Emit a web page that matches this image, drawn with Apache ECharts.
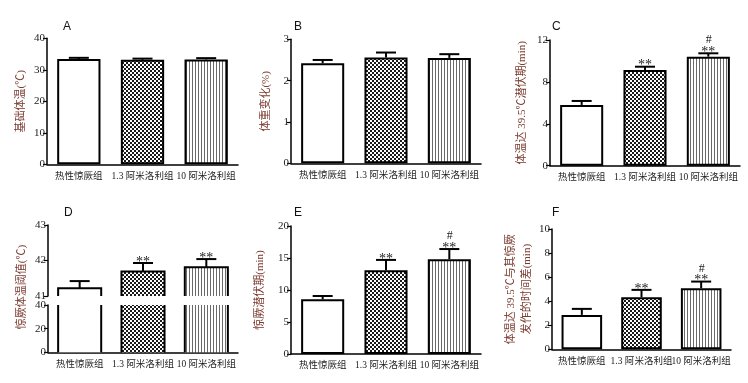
<!DOCTYPE html>
<html>
<head>
<meta charset="utf-8">
<script src="https://cdn.jsdelivr.net/npm/echarts@6/dist/echarts.min.js"></script>
<style>
html, body { margin: 0; background: #fff; }
#chart { width: 748px; height: 383px; }
</style>
</head>
<body>
<div id="chart"></div>
<script>
const groups = ['热性惊厥组', '1.3 阿米洛利组', '10 阿米洛利组'];

// A 基础体温
const baseTemp = [33.4, 33.2, 33.3];
const baseTempErr = [0.4, 0.35, 0.4];
// B 体重变化
const weightChange = [2.42, 2.56, 2.55];
const weightChangeErr = [0.08, 0.12, 0.09];
// C 体温达 39.5℃潜伏期
const latency395 = [5.8, 9.14, 10.41];
const latency395Err = [0.38, 0.31, 0.32];
// D 惊厥体温阈值
const threshold = [41.22, 41.69, 41.81];
const thresholdErr = [0.2, 0.24, 0.23];
// E 惊厥潜伏期
const seizureLatency = [8.55, 13.1, 14.8];
const seizureLatencyErr = [0.51, 1.6, 1.6];
// F 时间差
const timeDiff = [2.86, 4.33, 5.08];
const timeDiffErr = [0.5, 0.61, 0.55];

const noMark = ['', '', ''];
const starsSig = ['', '**', '**'];
const hashSig = ['', '', '#'];

const serif = "'Liberation Serif', 'Noto Sans CJK SC', serif";
const nameColor = '#7a3a2e';

function makePattern(kind) {
    const c = document.createElement('canvas');
    c.width = kind === 'check' ? 4 : 3;
    c.height = 4;
    const ctx = c.getContext('2d');
    ctx.fillStyle = '#fff';
    ctx.fillRect(0, 0, c.width, c.height);
    if (kind === 'check') {
        ctx.fillStyle = '#1a1a1a';
        ctx.fillRect(0, 0, 2, 2);
        ctx.fillRect(2, 2, 2, 2);
    } else {
        ctx.fillStyle = '#6a6a6a';
        ctx.fillRect(0, 0, 1, 4);
    }
    return {image: c, repeat: 'repeat'};
}

const fills = ['#fff', makePattern('check'), makePattern('stripe')];

// grids: A, B, C, D-top, D-bottom, E, F
const grids = [
    {left: 47, top: 38.3, width: 191, height: 126},
    {left: 291, top: 39.3, width: 190, height: 124},
    {left: 550, top: 40, width: 190, height: 125.7},
    {left: 48, top: 225, width: 190, height: 71},
    {left: 48, top: 305, width: 190, height: 47.3},
    {left: 291, top: 226, width: 190, height: 128},
    {left: 552, top: 229, width: 179, height: 120.3}
].map(g => Object.assign({outerBoundsMode: 'none', containLabel: false}, g));

const yDefs = [
    {min: 0, max: 40, interval: 10, name: '基础体温(℃)', gap: 18},
    {min: 0, max: 3, interval: 1, name: '体重变化(%)', gap: 17},
    {min: 0, max: 12, interval: 4, name: '体温达 39.5℃潜伏期(min)', gap: 20},
    {min: 41, max: 43, interval: 1, name: ''},
    {min: 0, max: 40, interval: 20, name: ''},
    {min: 0, max: 20, interval: 5, name: '惊厥潜伏期(min)', gap: 23},
    {min: 0, max: 10, interval: 2, name: '体温达 39.5℃与其惊厥\n发作的时间差(min)', gap: 12}
];

const xAxis = grids.map((g, k) => ({
    type: 'category',
    gridIndex: k,
    data: groups,
    show: k !== 3,
    axisLine: {lineStyle: {color: '#000', width: 1.5}},
    axisTick: {alignWithLabel: true, length: 4, lineStyle: {color: '#000', width: 1.2}},
    axisLabel: {interval: 0, margin: 7, fontSize: 9.5, color: '#222', fontFamily: serif}
}));

const yAxis = yDefs.map((d, k) => ({
    type: 'value',
    gridIndex: k,
    min: d.min,
    max: d.max,
    interval: d.interval,
    name: d.name,
    nameLocation: 'middle',
    nameRotate: 90,
    nameGap: d.gap || 0,
    nameTextStyle: {color: nameColor, fontSize: 11, fontFamily: serif, lineHeight: 16},
    axisLine: {show: true, lineStyle: {color: '#000', width: 1.5}},
    axisTick: {show: true, length: 4, lineStyle: {color: '#000', width: 1.2}},
    axisLabel: {margin: 2, fontSize: 11, color: '#222', fontFamily: serif},
    splitLine: {show: false}
}));

function barSeries(k, values) {
    return {
        type: 'bar',
        xAxisIndex: k,
        yAxisIndex: k,
        barWidth: '68%',
        silent: true,
        itemStyle: {borderColor: '#000', borderWidth: 2},
        data: values.map((v, i) => ({value: v, itemStyle: {color: fills[i]}}))
    };
}

// bar for the broken axis in D, open at the cut
function brokenBar(params, api) {
    const i = api.value(0);
    const p = api.coord([i, api.value(1)]);
    const cs = params.coordSys;
    const w = api.size([1, 0])[0] * 0.68;
    const l = p[0] - w / 2, r = p[0] + w / 2;
    const bottom = cs.y + cs.height;
    const cut = p[1] < cs.y;
    const top = cut ? cs.y : p[1];
    const edge = {stroke: '#000', lineWidth: 2, fill: null};
    const kids = [{type: 'rect', shape: {x: l, y: top, width: w, height: bottom - top}, style: {fill: fills[i]}}];
    if (cut) {
        kids.push({type: 'line', shape: {x1: l, y1: top, x2: l, y2: bottom}, style: edge});
        kids.push({type: 'line', shape: {x1: r, y1: top, x2: r, y2: bottom}, style: edge});
    } else {
        kids.push({type: 'polyline', shape: {points: [[l, bottom], [l, top], [r, top], [r, bottom]]}, style: edge});
    }
    return {type: 'group', children: kids};
}

function brokenSeries(k, values) {
    return {
        type: 'custom',
        xAxisIndex: k,
        yAxisIndex: k,
        silent: true,
        renderItem: brokenBar,
        data: values.map((v, i) => [i, v])
    };
}

function errorSeries(k, values, errs, stars, hash) {
    return {
        type: 'custom',
        xAxisIndex: k,
        yAxisIndex: k,
        silent: true,
        z: 5,
        data: values.map((v, i) => [i, v, errs[i]]),
        renderItem: function (params, api) {
            const i = api.value(0), m = api.value(1), e = api.value(2);
            const base = api.coord([i, m]);
            const y = api.coord([i, m + e])[1];
            const x = base[0];
            const st = {stroke: '#000', lineWidth: 2};
            const kids = [
                {type: 'line', shape: {x1: x, y1: base[1], x2: x, y2: y}, style: st},
                {type: 'line', shape: {x1: x - 10, y1: y, x2: x + 10, y2: y}, style: st}
            ];
            if (stars[i]) {
                kids.push({type: 'text', style: {text: stars[i], x: x, y: y - 1, align: 'center', verticalAlign: 'middle',
                    fontSize: 14, fontFamily: serif, fill: '#222'}});
            }
            if (hash[i]) {
                kids.push({type: 'text', style: {text: hash[i], x: x + 0.5, y: y - 13, align: 'center', verticalAlign: 'middle',
                    fontSize: 12, fontFamily: serif, fill: '#222'}});
            }
            return {type: 'group', children: kids};
        }
    };
}

const series = [
    barSeries(0, baseTemp), errorSeries(0, baseTemp, baseTempErr, noMark, noMark),
    barSeries(1, weightChange), errorSeries(1, weightChange, weightChangeErr, noMark, noMark),
    barSeries(2, latency395), errorSeries(2, latency395, latency395Err, starsSig, hashSig),
    brokenSeries(3, threshold), errorSeries(3, threshold, thresholdErr, starsSig, noMark),
    brokenSeries(4, threshold),
    barSeries(5, seizureLatency), errorSeries(5, seizureLatency, seizureLatencyErr, starsSig, hashSig),
    barSeries(6, timeDiff), errorSeries(6, timeDiff, timeDiffErr, starsSig, hashSig)
];

const panelTitles = [
    {text: 'A', left: 58, top: 16}, {text: 'B', left: 289, top: 16}, {text: 'C', left: 547, top: 16},
    {text: 'D', left: 59, top: 202}, {text: 'E', left: 289, top: 202}, {text: 'F', left: 547, top: 202}
].map(t => Object.assign({textStyle: {fontSize: 12, fontWeight: 'normal', color: '#111', fontFamily: 'Liberation Sans'}}, t));

const chart = echarts.init(document.getElementById('chart'), null, {renderer: 'canvas'});
chart.setOption({
    backgroundColor: '#fff',
    animation: false,
    title: panelTitles,
    grid: grids,
    xAxis: xAxis,
    yAxis: yAxis,
    series: series,
    graphic: [{
        type: 'text',
        x: 22, y: 287,
        rotation: Math.PI / 2,
        style: {text: '惊厥体温阈值(℃)', align: 'center', verticalAlign: 'middle', fontSize: 11, fontFamily: serif, fill: nameColor}
    }]
});
</script>
</body>
</html>
